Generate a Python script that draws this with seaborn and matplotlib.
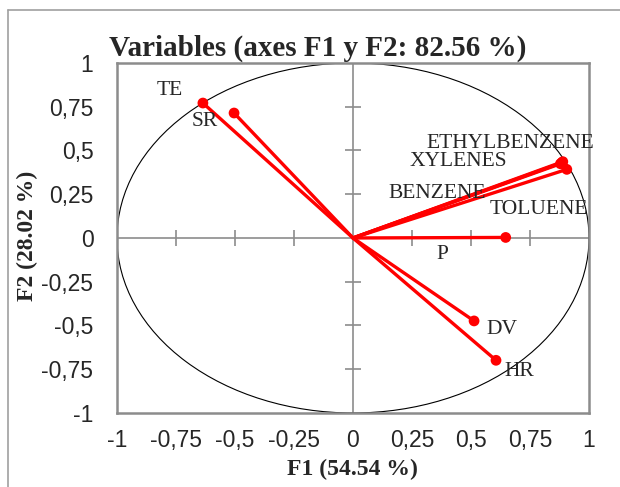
import numpy as np
import pandas as pd
import matplotlib.pyplot as plt
import seaborn as sns
from matplotlib.patches import Circle
from matplotlib.lines import Line2D

# correlacoes das variaveis com F1 e F2
variaveis = ['TE', 'SR', 'ETHYLBENZENE', 'XYLENES', 'BENZENE', 'TOLUENE', 'P', 'DV', 'HR']
f1 = [-0.636, -0.504, 0.889, 0.884, 0.879, 0.906, 0.647, 0.513, 0.606]
f2 = [0.771, 0.714, 0.436, 0.430, 0.424, 0.392, 0.003, -0.474, -0.699]
# deslocamento dos rotulos (pixels)
desloc = [(-33, 13), (-29, -8), (-52, 18), (-103, 1), (-123, -30), (-28, -40), (-63, -17), (28, -9), (23, -11)]

ticks = [-1, -0.75, -0.5, -0.25, 0, 0.25, 0.5, 0.75, 1]
tick_labels = ['-1', '-0,75', '-0,5', '-0,25', '0', '0,25', '0,5', '0,75', '1']

sns.set_style('white')
plt.rcParams['font.family'] = ['Liberation Sans', 'DejaVu Sans']

pontos = pd.DataFrame({'var': variaveis, 'F1': f1, 'F2': f2})
origem = pd.DataFrame({'var': variaveis, 'F1': 0.0, 'F2': 0.0})
vetores = pd.concat([origem, pontos], ignore_index=True)

fig = plt.figure(figsize=(6.2, 4.87), dpi=100)
ax = fig.add_axes([0.1887, 0.152, 0.7613, 0.7187])

# eixos internos
ax.axhline(0, color='#8c8c8c', lw=1.2, zorder=1)
ax.axvline(0, color='#8c8c8c', lw=1.2, zorder=1)
marcas = [t for t in ticks if t not in (-1, 0, 1)]
ax.plot(marcas, [0] * len(marcas), ls='none', marker='|', ms=11, mew=1.2, color='#8c8c8c', zorder=1)
ax.plot([0] * len(marcas), marcas, ls='none', marker='_', ms=11, mew=1.2, color='#8c8c8c', zorder=1)

ax.add_patch(Circle((0, 0), 1, fill=False, lw=0.8, color='black', zorder=2))

sns.lineplot(data=vetores, x='F1', y='F2', units='var', estimator=None, sort=False,
             color='red', lw=2.4, ax=ax, zorder=3)
sns.scatterplot(data=pontos, x='F1', y='F2', color='red', s=60, edgecolor='none', ax=ax, zorder=4)

for nome, x, y, d in zip(variaveis, f1, f2, desloc):
    ax.annotate(nome, (x, y), xytext=d, textcoords='offset pixels', ha='center', va='center',
                fontsize=15.5, family='Liberation Serif')

ax.set_xlim(-1, 1)
ax.set_ylim(-1, 1)
ax.set_xticks(ticks)
ax.set_xticklabels(tick_labels)
ax.set_yticks(ticks)
ax.set_yticklabels(tick_labels)
ax.tick_params(axis='both', length=0, labelsize=16.5)
ax.tick_params(axis='x', pad=11.5)
ax.tick_params(axis='y', pad=17)
for s in ax.spines.values():
    s.set_color('#8c8c8c')
    s.set_linewidth(1.8)

ax.set_xlabel('')
ax.set_ylabel('')
fig.text(0.569, 0.037, 'F1 (54.54 %)', ha='center', va='center', fontsize=17,
         fontweight='bold', family='Liberation Serif')
fig.text(0.045, 0.515, 'F2 (28.02 %)', ha='center', va='center', rotation=90, fontsize=17,
         fontweight='bold', family='Liberation Serif')
fig.text(0.512, 0.901, 'Variables (axes F1 y F2: 82.56 %)', ha='center', va='center',
         fontsize=21, fontweight='bold', family='Liberation Serif')

# moldura externa
fig.add_artist(Line2D([8 / 620, 8 / 620], [0, 1 - 10 / 487], color='#a0a0a0', lw=1.2))
fig.add_artist(Line2D([8 / 620, 1], [1 - 10 / 487, 1 - 10 / 487], color='#a0a0a0', lw=1.2))

plt.savefig('out.png', dpi=100, facecolor='w')
